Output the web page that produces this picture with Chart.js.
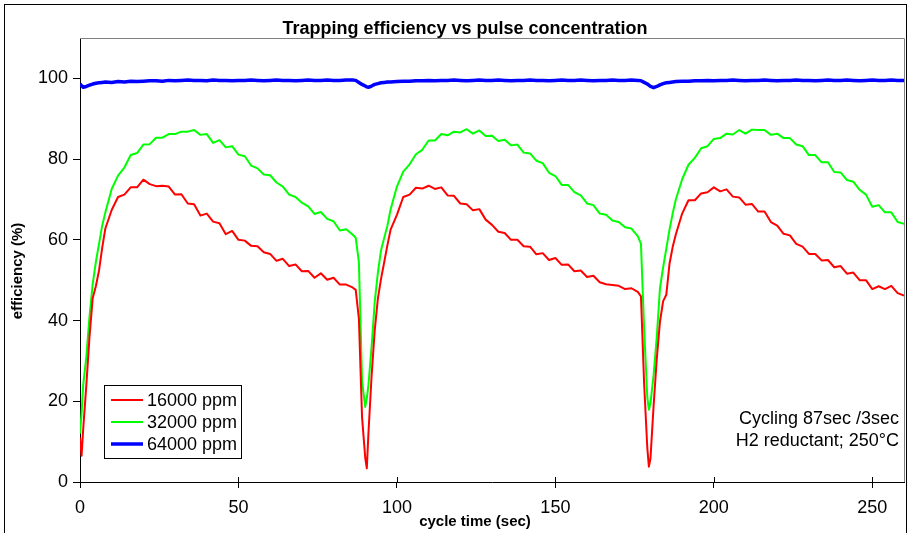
<!DOCTYPE html>
<html>
<head>
<meta charset="utf-8">
<script src="https://cdn.jsdelivr.net/npm/chart.js@4.4.1/dist/chart.umd.min.js"></script>
<style>
  body { margin: 0; background: #fff; }
  canvas { display: block; }
</style>
</head>
<body>
<canvas id="effChart" width="910" height="533"></canvas>
<script>
// cycle time (sec) - denser sampling around the two reductant pulses
const timeSec = [
  0, 0.5, 1, 2, 3, 4, 5, 6, 7, 8,
  10, 12, 14, 16, 18, 20, 22, 24, 26, 28, 30, 32, 34, 36, 38, 40, 42, 44, 46, 48,
  50, 52, 54, 56, 58, 60, 62, 64, 66, 68, 70, 72, 74, 76, 78, 80, 82, 84, 86,
  87, 88, 89, 90, 90.5, 91, 92, 93, 94, 95, 96, 97, 98,
  100, 102, 104, 106, 108, 110, 112, 114, 116, 118, 120, 122, 124, 126, 128, 130,
  132, 134, 136, 138, 140, 142, 144, 146, 148, 150, 152, 154, 156, 158, 160, 162,
  164, 166, 168, 170, 172, 174, 176,
  177, 178, 179, 179.5, 180, 181, 182, 183, 184, 185, 186, 187, 188,
  190, 192, 194, 196, 198, 200, 202, 204, 206, 208, 210, 212, 214, 216, 218, 220,
  222, 224, 226, 228, 230, 232, 234, 236, 238, 240, 242, 244, 246, 248, 250, 252,
  254, 256, 258, 260
];

const ppm16000 = [
  11, 6.5, 13, 24, 36, 45.5, 48.5, 52.4, 58, 62.8,
  67.4, 70.6, 71.2, 73.0, 73.0, 74.9, 73.8, 73.3, 73.4, 73.2, 71.2, 71.3, 69.0, 68.8, 66.0, 66.5, 64.5, 64.1, 61.4, 62.2,
  60.0, 59.8, 58.5, 58.4, 56.9, 56.5, 54.8, 55.3, 53.5, 53.9, 52.2, 52.3, 50.6, 51.7, 50.1, 50.6, 48.9, 48.9, 48.2,
  47.6, 40.5, 16, 6, 3.4, 11.9, 26.2, 37.6, 45.5, 50.4, 54.5, 58.7, 62.5,
  66.2, 70.6, 71.2, 72.9, 72.7, 73.4, 72.6, 73.0, 71.0, 70.9, 69.0, 68.8, 67.3, 67.6, 65.0, 63.7,
  62.0, 61.7, 60.0, 60.0, 58.4, 58.3, 56.4, 56.7, 55.0, 55.5, 53.8, 53.9, 52.2, 52.4, 50.8, 51.1,
  49.5, 49.0, 48.8, 48.6, 47.8, 48.0, 47.1,
  46, 24.4, 8.5, 3.8, 5.8, 19, 30.6, 39.7, 44.8, 46.4, 54, 58.2, 61.3,
  66.5, 69.8, 69.8, 71.5, 71.8, 73.0, 72.0, 72.5, 70.7, 70.5, 68.7, 68.9, 67.0, 67.0, 64.4, 63.5,
  61.5, 61.1, 59.0, 58.3, 56.5, 56.5, 54.9, 55.0, 53.2, 53.5, 51.6, 51.9, 50.0, 50.0, 47.8, 48.5,
  47.8, 48.6, 46.8, 46.2
];

const ppm32000 = [
  12, 17, 24, 31, 41, 49, 54.5, 59, 63.5, 66.8,
  72.6, 75.9, 77.9, 81.0, 81.5, 83.6, 83.7, 85.3, 85.3, 86.2, 86.2, 86.8, 86.8, 87.2, 86.0, 86.2, 84.0, 84.7, 82.9, 83.2,
  81.1, 80.7, 78.4, 77.7, 76.2, 76.0, 74.2, 73.2, 71.2, 70.6, 69.2, 68.3, 66.4, 66.9, 65.2, 64.6, 62.3, 62.6, 61.3,
  60.5, 54.5, 25, 18.6, 20.8, 23.9, 33.4, 44.7, 51.9, 57.5, 60.5, 63.5, 67.5,
  73.2, 76.9, 78.7, 81.2, 82.3, 84.6, 84.6, 86.2, 85.9, 86.8, 86.6, 87.4, 86.3, 87.1, 85.7, 85.8,
  84.5, 84.8, 83.4, 83.6, 81.6, 81.4, 79.6, 79.0, 76.6, 75.8, 73.6, 73.6, 71.8, 71.0, 69.0, 68.6,
  66.5, 66.2, 64.8, 64.4, 63.1, 62.8, 60.9,
  59, 38, 21, 17.9, 19.5, 26.6, 36, 48, 53.2, 57.8, 62.5, 66.5, 70,
  75, 78.6, 80.3, 82.7, 83.2, 85.0, 85.2, 86.3, 86.1, 87.2, 86.3, 87.3, 87.2, 87.2, 86.0, 86.3,
  85.2, 85.2, 83.6, 83.2, 81.0, 81.0, 79.2, 79.2, 76.8, 76.7, 74.8, 74.4, 72.4, 71.2, 68.2, 68.6,
  66.8, 66.8, 64.4, 64.0
];

const ppm64000 = [
  98.6, 98.2, 97.8, 98.0, 98.3, 98.6, 98.8, 98.9, 99.0, 99.1,
  99.0, 99.2, 99.1, 99.3, 99.2, 99.3, 99.4, 99.4, 99.3, 99.5, 99.4, 99.5, 99.6, 99.5, 99.5, 99.4, 99.6, 99.5, 99.5, 99.4,
  99.5, 99.5, 99.6, 99.5, 99.4, 99.5, 99.6, 99.5, 99.5, 99.4, 99.5, 99.6, 99.5, 99.5, 99.6, 99.5, 99.5, 99.6, 99.6,
  99.5, 99.0, 98.5, 98.1, 97.9, 97.8, 98.1, 98.5, 98.7, 98.9, 99.0, 99.1, 99.1,
  99.2, 99.3, 99.3, 99.4, 99.4, 99.5, 99.4, 99.5, 99.5, 99.6, 99.5, 99.4, 99.5, 99.6, 99.5, 99.5,
  99.6, 99.5, 99.4, 99.5, 99.5, 99.6, 99.5, 99.5, 99.4, 99.5, 99.6, 99.5, 99.5, 99.6, 99.5, 99.4,
  99.5, 99.5, 99.6, 99.5, 99.5, 99.6, 99.5,
  99.4, 99.0, 98.6, 98.3, 98.0, 97.7, 98.0, 98.4, 98.7, 98.9, 99.0, 99.1, 99.2,
  99.3, 99.3, 99.4, 99.4, 99.5, 99.4, 99.5, 99.5, 99.6, 99.5, 99.4, 99.5, 99.5, 99.6, 99.5, 99.4,
  99.5, 99.5, 99.6, 99.5, 99.5, 99.4, 99.5, 99.6, 99.5, 99.5, 99.6, 99.5, 99.4, 99.5, 99.6, 99.5,
  99.5, 99.6, 99.5, 99.5
];

const seriesLabels = ['16000 ppm', '32000 ppm', '64000 ppm'];
const xTicks = [0, 50, 100, 150, 200, 250];
const yTicks = [0, 20, 40, 60, 80, 100];
const noteLines = ['Cycling 87sec /3sec', 'H2 reductant; 250°C'];

const FONT = "'Liberation Sans', Arial, sans-serif";
Chart.defaults.font.family = FONT;
Chart.defaults.color = '#000';

const toPoints = vals => timeSec.map((t, i) => ({ x: t, y: vals[i] }));

// title, axis titles, legend, note and frame lines drawn by hand (Excel look)
const excelDecor = {
  id: 'excelDecor',
  afterDraw(chart) {
    const { ctx, chartArea: a } = chart;
    const xs = chart.scales.x;
    ctx.save();

    // plot area top / right border
    ctx.strokeStyle = '#808080';
    ctx.lineWidth = 1;
    ctx.beginPath();
    ctx.moveTo(a.left, a.top + 0.5);
    ctx.lineTo(a.right + 0.5, a.top + 0.5);
    ctx.lineTo(a.right + 0.5, a.bottom);
    ctx.stroke();

    // x tick marks also cross into the plot
    ctx.strokeStyle = '#000';
    ctx.beginPath();
    xTicks.forEach(v => {
      const px = Math.round(xs.getPixelForValue(v)) + 0.5;
      ctx.moveTo(px, a.bottom - 5);
      ctx.lineTo(px, a.bottom);
    });
    ctx.stroke();

    // outer chart frame
    ctx.strokeRect(4.5, 4.5, 902, 600);

    ctx.fillStyle = '#000';
    ctx.textBaseline = 'middle';

    ctx.font = 'bold 18px ' + FONT;
    ctx.textAlign = 'center';
    ctx.fillText('Trapping efficiency vs pulse concentration', 465, 29);

    ctx.font = 'bold 15px ' + FONT;
    ctx.fillText('cycle time (sec)', 475, 522);

    ctx.save();
    ctx.translate(18, 271);
    ctx.rotate(-Math.PI / 2);
    ctx.font = 'bold 15px ' + FONT;
    ctx.fillText('efficiency (%)', 0, 0);
    ctx.restore();

    // note, bottom right
    ctx.font = '18px ' + FONT;
    ctx.textAlign = 'right';
    noteLines.forEach((line, i) => ctx.fillText(line, 899, 419 + i * 22.5));

    // legend box
    ctx.fillStyle = '#fff';
    ctx.fillRect(104.5, 385.5, 137, 73);
    ctx.strokeStyle = '#000';
    ctx.strokeRect(104.5, 385.5, 137, 73);
    ctx.textAlign = 'left';
    chart.data.datasets.forEach((ds, i) => {
      const y = 400 + i * 22;
      ctx.strokeStyle = ds.borderColor;
      ctx.lineWidth = ds.borderWidth;
      ctx.beginPath();
      ctx.moveTo(111, y);
      ctx.lineTo(143, y);
      ctx.stroke();
      ctx.fillStyle = '#000';
      ctx.fillText(ds.label, 147, y + 1);
    });

    ctx.restore();
  }
};

new Chart(document.getElementById('effChart'), {
  type: 'line',
  data: {
    datasets: [
      { label: seriesLabels[0], data: toPoints(ppm16000), borderColor: '#ff0000', borderWidth: 2 },
      { label: seriesLabels[1], data: toPoints(ppm32000), borderColor: '#00ff00', borderWidth: 2 },
      { label: seriesLabels[2], data: toPoints(ppm64000), borderColor: '#0000ff', borderWidth: 3.5 }
    ]
  },
  options: {
    responsive: false,
    animation: false,
    layout: { padding: { top: 38, right: 6, left: 0, bottom: 0 } },
    elements: { point: { radius: 0 }, line: { tension: 0, borderJoinStyle: 'round' } },
    plugins: { legend: { display: false }, title: { display: false }, tooltip: { enabled: false } },
    scales: {
      x: {
        type: 'linear',
        min: 0,
        max: 260,
        afterBuildTicks: axis => { axis.ticks = xTicks.map(v => ({ value: v })); },
        afterFit: axis => { axis.height = 51; },
        grid: { drawOnChartArea: false, tickLength: 6, color: '#000' },
        border: { color: '#000', width: 1 },
        ticks: { font: { size: 18 }, padding: 9, maxRotation: 0 }
      },
      y: {
        min: 0,
        max: 110,
        afterBuildTicks: axis => { axis.ticks = yTicks.map(v => ({ value: v })); },
        afterFit: axis => { axis.width = 80; },
        grid: { drawOnChartArea: false, tickLength: 7, color: '#000' },
        border: { color: '#000', width: 1 },
        ticks: { font: { size: 18 }, padding: 5 }
      }
    }
  },
  plugins: [excelDecor]
});
</script>
</body>
</html>
